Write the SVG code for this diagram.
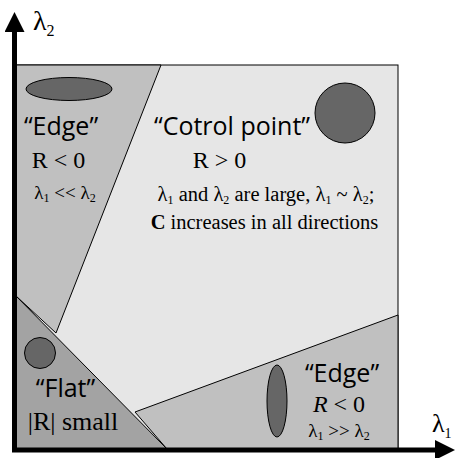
<svg xmlns="http://www.w3.org/2000/svg" width="456" height="458" viewBox="0 0 456 458">
<style>
.sans{font-family:"Open Sans","DejaVu Sans",sans-serif;font-size:25px;fill:#000;text-anchor:middle}
.serif{font-family:"Liberation Serif","Times New Roman",serif;fill:#000;text-anchor:middle}
.big{font-size:24px}
.mid{font-size:20.5px}
.small{font-size:19px}
.region{stroke:#000;stroke-width:1}
.blob{fill:#666;stroke:#000;stroke-width:1}
.axis{stroke:#000;stroke-width:5;fill:none}
</style>
<defs>
<marker id="arr" markerWidth="4" markerHeight="4" refX="1" refY="2" orient="auto" markerUnits="strokeWidth" viewBox="0 0 4 4">
<path d="M0,0 L4,2 L0,4 Z" fill="#000"/>
</marker>
</defs>
<g id="regions">
<rect id="box" x="15" y="65" width="383" height="384" fill="#e6e6e6" stroke="#000" stroke-width="1"/>
<polygon id="edge-tl-region" class="region" fill="#c0c0c0" points="15,65 161,65 56,333 15,295"/>
<polygon id="edge-br-region" class="region" fill="#c0c0c0" points="135,412 398,315 398,449 167,449"/>
<polygon id="flat-region" class="region" fill="#a3a3a3" points="15,295 167,449 15,449"/>
</g>
<g id="node-edge-tl">
<ellipse class="blob" cx="69" cy="89" rx="43" ry="11.5"/>
<text class="sans" x="61" y="135">“Edge”</text>
<text class="serif big" x="58.5" y="168">R &lt; 0</text>
<text class="serif small" x="65" y="199">λ<tspan font-size="12" dy="3">1</tspan><tspan dy="-3"> &lt;&lt; λ</tspan><tspan font-size="12" dy="3">2</tspan></text>
</g>
<g id="node-control">
<circle class="blob" cx="345" cy="113" r="30"/>
<text class="sans" x="232" y="135">“Cotrol point”</text>
<text class="serif big" x="219.5" y="168">R &gt; 0</text>
<text class="serif mid" x="266" y="201">λ<tspan font-size="12" dy="3">1</tspan><tspan dy="-3"> and λ</tspan><tspan font-size="12" dy="3">2</tspan><tspan dy="-3"> are large, λ</tspan><tspan font-size="12" dy="3">1</tspan><tspan dy="-3"> ~ λ</tspan><tspan font-size="12" dy="3">2</tspan><tspan dy="-3">;</tspan></text>
<text class="serif mid" x="264.5" y="229"><tspan font-weight="bold">C</tspan> increases in all directions</text>
</g>
<g id="node-flat">
<circle class="blob" cx="40" cy="353" r="15.5"/>
<text class="sans" x="65.5" y="397">“Flat”</text>
<text class="serif" font-size="26" x="73" y="430">|R| small</text>
</g>
<g id="node-edge-br">
<ellipse class="blob" cx="277" cy="401" rx="10" ry="36"/>
<text class="sans" x="342" y="382">“Edge”</text>
<text class="serif big" x="339" y="412"><tspan font-style="italic">R</tspan> &lt; 0</text>
<text class="serif small" x="339" y="437">λ<tspan font-size="12" dy="3">1</tspan><tspan dy="-3"> &gt;&gt; λ</tspan><tspan font-size="12" dy="3">2</tspan></text>
</g>
<g id="connectors">
<line class="axis" x1="14.5" y1="452" x2="14.5" y2="27" marker-end="url(#arr)"/>
<line class="axis" x1="12" y1="450" x2="440" y2="450" marker-end="url(#arr)"/>
</g>
<g id="axis-labels">
<text class="serif" style="text-anchor:start" font-size="28" x="33" y="30">λ<tspan font-size="16" dy="6">2</tspan></text>
<text class="serif" style="text-anchor:start" font-size="26" x="432" y="432">λ<tspan font-size="14" dy="6">1</tspan></text>
</g>
</svg>
